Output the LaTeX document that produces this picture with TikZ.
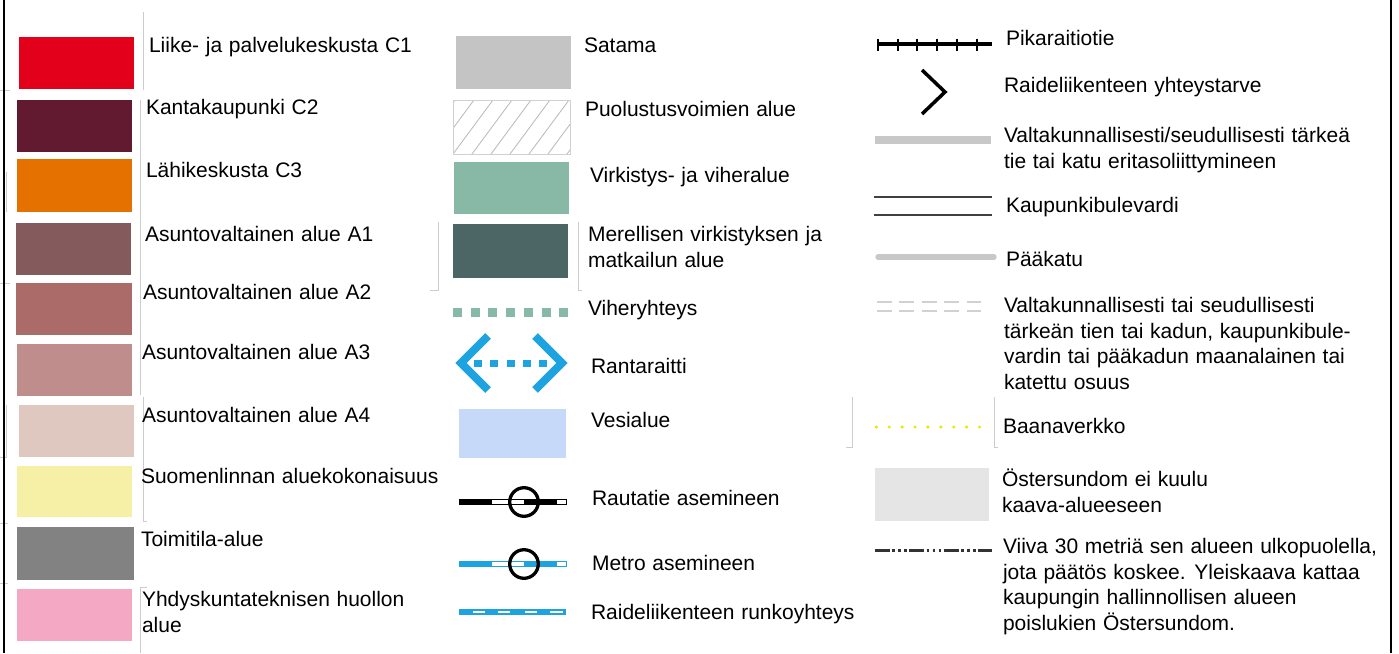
\documentclass[tikz,border=0pt]{standalone}
\usepackage{fontspec}
\setmainfont{Liberation Sans}[WordSpace=1.15]
\definecolor{cC1}{HTML}{E2001A}
\definecolor{cC2}{HTML}{621A30}
\definecolor{cC3}{HTML}{E57200}
\definecolor{cA1}{HTML}{855A5C}
\definecolor{cA2}{HTML}{AA6B69}
\definecolor{cA3}{HTML}{BF8E8C}
\definecolor{cA4}{HTML}{DFC8C0}
\definecolor{cSuom}{HTML}{F5F0A6}
\definecolor{cToim}{HTML}{828282}
\definecolor{cYhd}{HTML}{F5A8C3}
\definecolor{cSat}{HTML}{C4C4C4}
\definecolor{cVirk}{HTML}{88B8A6}
\definecolor{cMer}{HTML}{4B6664}
\definecolor{cBlue}{HTML}{1DA3E0}
\definecolor{cVesi}{HTML}{C6D9F9}
\definecolor{cRoad}{HTML}{C8C8C8}
\definecolor{cOster}{HTML}{E5E5E5}
\definecolor{cYel}{HTML}{E8E800}
\definecolor{cHatch}{HTML}{B8B8B8}
\begin{document}
\begin{tikzpicture}[x=1pt,y=-1pt,
  every node/.style={inner sep=0pt, outer sep=0pt},
  lbl/.style={anchor=base west, align=left, font=\fontsize{21}{25.5}\selectfont},
  faint/.style={draw=black!20, line width=0.7pt},
  frameline/.style={draw=black, line width=2.5pt},
  railbar/.style={line width=0.8pt}]
\useasboundingbox (0,0) rectangle (1399,653);
\fill[white] (0,0) rectangle (1399,653);
% faint table remnants
\draw[faint] (143,12) -- (143,90);
\draw[faint] (140,100) -- (140,395);
\draw[faint] (143,397) -- (143,521) -- (147,521);
\draw[faint] (147,587) -- (140,587) -- (140,653);
\draw[faint] (6,172) -- (6,212);
\draw[faint] (0,90) -- (10,90);
\draw[faint] (0,283) -- (10,283);
\draw[faint] (6,405) -- (6,457) -- (0,457);
\draw[faint] (0,523) -- (8,523);
\draw[faint] (0,583) -- (8,583);
\draw[faint] (438,222) -- (438,290) -- (430,290);
\draw[faint] (578,222) -- (578,290) -- (582,290);
\draw[faint] (852,397) -- (852,447) -- (846,447);
\draw[faint] (994,397) -- (994,447) -- (998,447);
% frame
\draw[frameline] (4,0) -- (4,653);
\draw[frameline] (1391,0) -- (1391,653);
% ---------- left column ----------
\fill[cC1] (19,37) rectangle (134,89);
\fill[cC2] (17,100) rectangle (132,152);
\fill[cC3] (17,159) rectangle (132,212);
\fill[cA1] (16,223) rectangle (131,275);
\fill[cA2] (16,283) rectangle (132,335);
\fill[cA3] (17,344) rectangle (132,396);
\fill[cA4] (19,405) rectangle (134,457);
\fill[cSuom] (17,466) rectangle (132,517);
\fill[cToim] (17,527) rectangle (134,580);
\fill[cYhd] (17,589) rectangle (132,641);
\node[lbl] (tC1) at (149,52) {Liike- ja palvelukeskusta C1};
\node[lbl] (tC2) at (146,114) {Kantakaupunki C2};
\node[lbl] (tC3) at (146,177) {Lähikeskusta C3};
\node[lbl] (tA1) at (145,241) {Asuntovaltainen alue A1};
\node[lbl] (tA2) at (143,299) {Asuntovaltainen alue A2};
\node[lbl] (tA3) at (142,359) {Asuntovaltainen alue A3};
\node[lbl] (tA4) at (142,422) {Asuntovaltainen alue A4};
\node[lbl] (tSuom) at (141,483) {Suomenlinnan aluekokonaisuus};
\node[lbl] (tToim) at (141,546) {Toimitila-alue};
\node[lbl] (tYhd) at (142,632) {Yhdyskuntateknisen huollon\\alue};
% ---------- middle column ----------
\fill[cSat] (456,36) rectangle (571,89);
\begin{scope}
  \clip (453,100) rectangle (570,154);
  \foreach \k in {-3,...,7}
    \draw[cHatch, line width=0.8pt] ({453+\k*19},154) -- ({453+\k*19+40},100);
\end{scope}
\draw[black!18, line width=1pt] (453,100) rectangle (570,154);
\fill[cVirk] (454,162) rectangle (569,214);
\fill[cMer] (453,224) rectangle (568,278);
\draw[cVirk, line width=9pt, dash pattern=on 9pt off 8.7pt] (453,312) -- (568,312);
% Rantaraitti
\draw[cBlue, line width=8pt, miter limit=10] (488,336) -- (461,363) -- (488,390);
\draw[cBlue, line width=8pt, miter limit=10] (535,336) -- (562,363) -- (535,390);
\draw[cBlue, line width=7pt, dash pattern=on 8pt off 8.3pt] (474,363) -- (551,363);
\fill[cVesi] (459,409) rectangle (566,458);
% Rautatie
\filldraw[fill=white, draw=black, railbar] (459,499.2) rectangle (566,504.8);
\fill[black] (459,499.2) rectangle (492,504.8);
\fill[black] (524,499.2) rectangle (557,504.8);
\draw[black, line width=3.3pt] (524,502) circle[radius=14.3];
% Metro
\filldraw[fill=white, draw=cBlue, railbar] (459,561.2) rectangle (566,566.8);
\fill[cBlue] (459,561.2) rectangle (492,566.8);
\fill[cBlue] (524,561.2) rectangle (557,566.8);
\draw[black, line width=3.3pt] (524,564) circle[radius=14.3];
% Raideliikenteen runkoyhteys
\fill[cBlue] (459,609.2) rectangle (566,614.8);
\foreach \a/\b in {473/485,498/510,525/537,550/563}
  \fill[white] (\a,610.6) rectangle (\b,613.4);
\node[lbl] (tSat) at (584,52) {Satama};
\node[lbl] (tPuol) at (585,116) {Puolustusvoimien alue};
\node[lbl] (tVirk) at (590,182) {Virkistys- ja viheralue};
\node[lbl] (tMer) at (588,267) {Merellisen virkistyksen ja\\matkailun alue};
\node[lbl] (tVih) at (588,315) {Viheryhteys};
\node[lbl] (tRanta) at (591,373) {Rantaraitti};
\node[lbl] (tVesi) at (591,427) {Vesialue};
\node[lbl] (tRaut) at (592,505) {Rautatie asemineen};
\node[lbl] (tMetro) at (592,570) {Metro asemineen};
\node[lbl] (tRunko) at (591,619) {Raideliikenteen runkoyhteys};
% ---------- right column ----------
\draw[black, line width=3.5pt] (877,44) -- (992,44);
\foreach \x in {878,897.5,917,937,957,977}
  \draw[black, line width=2pt] (\x,38.5) -- (\x,51);
\draw[black, line width=3.5pt, miter limit=10] (922,70) -- (945,92) -- (922,114);
\draw[cRoad, line width=8pt] (875,140) -- (991,140);
\draw[black!75, line width=1.3pt] (874,197) -- (992,197);
\draw[black!75, line width=1.3pt] (874,215) -- (992,215);
\draw[cRoad, line width=5.3pt, line cap=round] (878,257) -- (994,257);
\draw[black!18, line width=1.8pt, dash pattern=on 14.7pt off 7.7pt] (877,302) -- (984,302);
\draw[black!18, line width=1.8pt, dash pattern=on 14.7pt off 7.7pt] (877,311) -- (984,311);
\foreach \i in {0,...,8}
  \fill[cYel] ({876.3+\i*12.9},427) circle[radius=1.7];
\fill[cOster] (875,468) rectangle (989,521);
\draw[black!80, line width=3pt, dash pattern=on 15pt off 2.3pt on 2.7pt off 3.3pt on 2.7pt off 3.3pt on 2.7pt off 2.3pt] (875,550.7) -- (992,550.7);
\node[lbl] (tPika) at (1006,45) {Pikaraitiotie};
\node[lbl] (tYht) at (1004,92) {Raideliikenteen yhteystarve};
\node[lbl] (tValt) at (1004,168) {Valtakunnallisesti/seudullisesti tärkeä\\tie tai katu eritasoliittymineen};
\node[lbl] (tBul) at (1006,212) {Kaupunkibulevardi};
\node[lbl] (tPaa) at (1006,266) {Pääkatu};
\node[lbl] (tMaan) at (1004,389) {Valtakunnallisesti tai seudullisesti\\tärkeän tien tai kadun, kaupunkibule-\\vardin tai pääkadun maanalainen tai\\katettu osuus};
\node[lbl] (tBaana) at (1003,433) {Baanaverkko};
\node[lbl] (tOst) at (1002,512) {Östersundom ei kuulu\\kaava-alueeseen};
\node[lbl] (tViiva) at (1003,630) {Viiva 30 metriä sen alueen ulkopuolella,\\jota päätös koskee. Yleiskaava kattaa\\kaupungin hallinnollisen alueen\\poislukien Östersundom.};
\end{tikzpicture}
\end{document}
